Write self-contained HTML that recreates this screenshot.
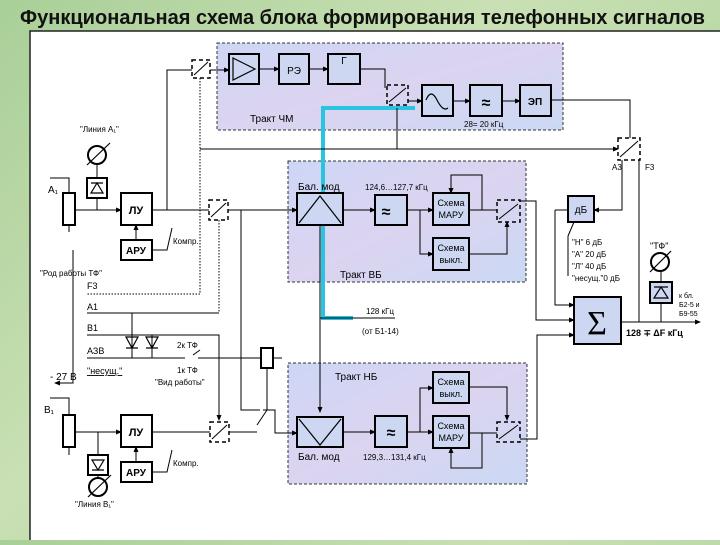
<!DOCTYPE html>
<html><head><meta charset="utf-8"><style>
html,body{margin:0;padding:0}
body{width:720px;height:540px;overflow:hidden;background:linear-gradient(135deg,#a9cf98,#c9e0b4 40%,#b5d6a2 70%,#cfe3bd);font-family:"Liberation Sans",sans-serif}
</style></head><body>
<svg width="720" height="540" xmlns="http://www.w3.org/2000/svg" font-family="Liberation Sans, sans-serif">
<defs>
<marker id="a" markerWidth="6" markerHeight="6" refX="5" refY="3" orient="auto"><path d="M0,0.5 L6,3 L0,5.5z" fill="#000"/></marker>
<linearGradient id="bx" x1="0" y1="0" x2="1" y2="1"><stop offset="0" stop-color="#cdd6f6"/><stop offset="0.5" stop-color="#dcd4f0"/><stop offset="1" stop-color="#cad8f4"/></linearGradient>
</defs>
<text x="20" y="24" font-size="20" font-weight="bold" fill="#111" textLength="685" lengthAdjust="spacingAndGlyphs">Функциональная схема блока формирования телефонных сигналов</text>
<rect x="30" y="31" width="692" height="512" fill="#fff" stroke="#222" stroke-width="1.5"/>
<g fill="url(#bx)" stroke="#333" stroke-dasharray="3,2">
<rect x="217" y="43" width="346" height="87"/>
<rect x="288" y="161" width="238" height="121"/>
<rect x="288" y="363" width="239" height="121"/>
</g>
<g fill="none" stroke="#000" stroke-width="1">
<path d="M415,108 H323 V318 H353" stroke="#2bc4e0" stroke-width="4"/>
<path d="M167,210 V70 H192"/>
<path d="M210,70 H229" marker-end="url(#a)"/>
<path d="M259,69 H279" marker-end="url(#a)"/>
<path d="M309,69 H328" marker-end="url(#a)"/>
<path d="M360,69 H385 V88"/>
<path d="M408,101 H422" marker-end="url(#a)"/>
<path d="M453,101 H470" marker-end="url(#a)"/>
<path d="M502,101 H520" marker-end="url(#a)"/>
<path d="M551,100 H630 V138"/>
<path d="M200,149 H618" marker-end="url(#a)"/>
<path d="M397,149 V108"/>
<path d="M622,160 V210 H594" marker-end="url(#a)"/>
<path d="M639,160 V322"/>
<path d="M50,178 H69 V193"/>
<path d="M69,225 V232"/>
<path d="M75,210 H121" marker-end="url(#a)"/>
<path d="M97,198 V210"/><path d="M97,164 V178"/>
<path d="M152,210 H209"/>
<path d="M228,210 H297" marker-end="url(#a)"/>
<path d="M136,240 V225" marker-end="url(#a)"/>
<path d="M152,250 H167 L172,228"/>
<path d="M200,78 V294 H87" stroke-dasharray="1.5,1.5"/>
<path d="M219,220 V313" stroke-dasharray="1.5,1.5"/>
<path d="M219,313 H87"/>
<path d="M241,210 V410 H260"/>
<path d="M343,210 H375" marker-end="url(#a)"/>
<path d="M320,225 V412" marker-end="url(#a)"/>
<path d="M320,318 H395"/>
<path d="M407,210 H433" marker-end="url(#a)"/>
<path d="M420,210 V254 H433" marker-end="url(#a)"/>
<path d="M469,210 H497"/>
<path d="M482,210 V175 H451 V193" marker-end="url(#a)"/>
<path d="M469,254 H507 V222" marker-end="url(#a)"/>
<path d="M520,201 H536 V320 H574" marker-end="url(#a)"/>
<path d="M555,210 V305 H574" marker-end="url(#a)"/>
<path d="M568,210 H555"/>
<path d="M621,322 H700" marker-end="url(#a)"/>
<path d="M661,303 V322"/><path d="M661,282 V272"/>
<path d="M574,222 L568,236 M568,236 V276"/>
<path d="M73,250 V383 H55" marker-end="url(#a)"/>
<path d="M87,335 H219 V420" marker-end="url(#a)"/>
<path d="M87,358 H185 M193,355 L200,350 M198,358 H261"/>
<path d="M132,313 V358 M152,335 V358"/>
<path d="M273,358 H282"/>
<path d="M267,368 V410 L257,425"/>
<path d="M50,398 H69 V415"/><path d="M69,447 V455"/>
<path d="M75,432 H121" marker-end="url(#a)"/>
<path d="M98,432 V455"/><path d="M98,475 V480"/>
<path d="M152,432 H210"/>
<path d="M229,432 H257 M263,410 H275 V433 H297" marker-end="url(#a)"/>
<path d="M136,462 V447" marker-end="url(#a)"/>
<path d="M152,472 H167 L172,450"/>
<path d="M343,432 H375" marker-end="url(#a)"/>
<path d="M407,432 H433" marker-end="url(#a)"/>
<path d="M420,432 V388 H433" marker-end="url(#a)"/>
<path d="M469,433 H497"/>
<path d="M482,433 V468 H451 V448" marker-end="url(#a)"/>
<path d="M469,387 H507 V420" marker-end="url(#a)"/>
<path d="M520,439 H537 V335 H574" marker-end="url(#a)"/>
</g>
<g fill="none" stroke="#000" stroke-width="1.5" stroke-dasharray="4,3">
<rect x="192" y="60" width="18" height="18"/>
<rect x="387" y="85" width="21" height="20"/>
<rect x="618" y="138" width="22" height="22"/>
<rect x="209" y="200" width="19" height="20"/>
<rect x="497" y="200" width="23" height="22"/>
<rect x="210" y="422" width="19" height="20"/>
<rect x="497" y="422" width="23" height="20"/>
</g>
<g stroke="#000" fill="none">
<path d="M194,75 L208,62 M389,102 L406,88 M620,157 L638,141 M211,217 L226,203 M499,219 L518,204 M212,439 L227,425 M499,439 L518,425"/>
</g>
<g fill="#cdd7f2" stroke="#000" stroke-width="2">
<rect x="229" y="54" width="30" height="30"/>
<rect x="279" y="54" width="30" height="30"/>
<rect x="328" y="54" width="32" height="30"/>
<rect x="422" y="85" width="31" height="31"/>
<rect x="470" y="85" width="32" height="31"/>
<rect x="520" y="85" width="31" height="31"/>
<rect x="297" y="193" width="46" height="32"/>
<rect x="375" y="195" width="32" height="30"/>
<rect x="433" y="193" width="36" height="32"/>
<rect x="433" y="238" width="36" height="32"/>
<rect x="568" y="196" width="26" height="26"/>
<rect x="574" y="297" width="47" height="47"/>
<rect x="297" y="417" width="46" height="30"/>
<rect x="375" y="416" width="32" height="31"/>
<rect x="433" y="416" width="36" height="32"/>
<rect x="433" y="372" width="36" height="31"/>
<rect x="650" y="282" width="22" height="21"/>
</g>
<g fill="#fff" stroke="#000" stroke-width="2">
<rect x="121" y="193" width="31" height="32"/>
<rect x="121" y="240" width="31" height="20"/>
<rect x="121" y="415" width="31" height="32"/>
<rect x="121" y="462" width="31" height="20"/>
<rect x="63" y="193" width="12" height="32"/>
<rect x="63" y="415" width="12" height="32"/>
<rect x="87" y="178" width="20" height="20"/>
<rect x="88" y="455" width="20" height="20"/>
<rect x="261" y="348" width="12" height="20"/>
<circle cx="97" cy="155" r="9"/>
<circle cx="98" cy="487" r="9"/>
<circle cx="660" cy="262" r="9"/>
</g>
<g stroke="#000" fill="none" stroke-width="1.2">
<path d="M233,58 L255,69 L233,80z"/>
<path d="M299,223 L320,196 L341,223"/>
<path d="M299,419 L320,445 L341,419"/>
<path d="M426,100 Q431,88 437,100 T448,108"/>
<path d="M87,165 L110,143 M88,497 L111,475 M650,272 L671,251"/>
<path d="M91,193 H103 L97,183z M91,183 H103"/>
<path d="M92,460 H104 L98,470z M92,470 H104"/>
<path d="M654,298 H668 L661,287z M654,287 H668"/>
<path d="M126,337 H138 L132,348z M146,337 H158 L152,348z M126,348 H138 M146,348 H158"/>
</g>
<g font-size="16" fill="#000" text-anchor="middle" font-weight="bold">
<text x="386" y="217">≈</text><text x="486" y="108">≈</text><text x="391" y="438">≈</text>
</g>
<text x="597" y="334" font-size="34" text-anchor="middle" font-family="Liberation Serif, serif">Σ</text>
<g font-size="10" fill="#000">
<text x="294" y="74" text-anchor="middle">РЭ</text>
<text x="344" y="64" text-anchor="middle">Г</text>
<text x="535" y="105" text-anchor="middle" font-weight="bold">ЭП</text>
<text x="136" y="214" text-anchor="middle" font-weight="bold" font-size="11">ЛУ</text>
<text x="136" y="254" text-anchor="middle" font-weight="bold">АРУ</text>
<text x="136" y="436" text-anchor="middle" font-weight="bold" font-size="11">ЛУ</text>
<text x="136" y="476" text-anchor="middle" font-weight="bold">АРУ</text>
<text x="581" y="213" text-anchor="middle">дБ</text>
<text x="451" y="206" text-anchor="middle" font-size="9">Схема</text><text x="451" y="218" text-anchor="middle" font-size="9">МАРУ</text>
<text x="451" y="251" text-anchor="middle" font-size="9">Схема</text><text x="451" y="263" text-anchor="middle" font-size="9">выкл.</text>
<text x="451" y="385" text-anchor="middle" font-size="9">Схема</text><text x="451" y="397" text-anchor="middle" font-size="9">выкл.</text>
<text x="451" y="429" text-anchor="middle" font-size="9">Схема</text><text x="451" y="441" text-anchor="middle" font-size="9">МАРУ</text>
<text x="250" y="122">Тракт ЧМ</text>
<text x="340" y="278">Тракт ВБ</text>
<text x="335" y="380">Тракт НБ</text>
<text x="298" y="190">Бал. мод</text>
<text x="298" y="460">Бал. мод</text>
<text x="48" y="193">А₁</text>
<text x="44" y="413">В₁</text>
<text x="50" y="380">- 27 В</text>
<text x="87" y="289" font-size="9">F3</text>
<text x="87" y="310" font-size="9">А1</text>
<text x="87" y="331" font-size="9">В1</text>
<text x="87" y="354" font-size="9">АЗВ</text>
<text x="87" y="374" font-size="9" text-decoration="underline">"несущ."</text>
<text x="612" y="170" font-size="8">А3</text>
<text x="645" y="170" font-size="8">F3</text>
<text x="650" y="249" font-size="9">"ТФ"</text>
</g>
<g font-size="8" fill="#000">
<text x="464" y="127">28= 20 кГц</text>
<text x="80" y="132">"Линия А₁"</text>
<text x="173" y="244">Компр.</text>
<text x="173" y="466">Компр.</text>
<text x="40" y="276">"Род работы ТФ"</text>
<text x="365" y="190">124,6…127,7 кГц</text>
<text x="363" y="460">129,3…131,4 кГц</text>
<text x="366" y="314">128 кГц</text>
<text x="362" y="334">(от Б1-14)</text>
<text x="177" y="348">2к ТФ</text>
<text x="177" y="373">1к ТФ</text>
<text x="155" y="385">"Вид работы"</text>
<text x="75" y="507">"Линия В₁"</text>
<text x="572" y="245">"Н" 6 дБ</text>
<text x="572" y="257">"А" 20 дБ</text>
<text x="572" y="269">"Л" 40 дБ</text>
<text x="572" y="281">"несущ."0 дБ</text>
<text x="679" y="298" font-size="7">к бл.</text>
<text x="679" y="307" font-size="7">Б2-5 и</text>
<text x="679" y="316" font-size="7">Б9-55</text>
<text x="626" y="336" font-size="9" font-weight="bold">128 ∓ ΔF кГц</text>
</g>
</svg>
</body></html>
